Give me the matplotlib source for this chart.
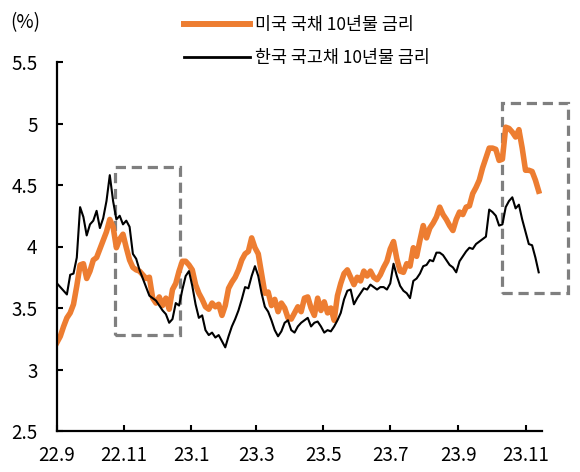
import matplotlib
matplotlib.use("Agg")
import matplotlib.pyplot as plt
from matplotlib.patches import Rectangle
from matplotlib.lines import Line2D
import pandas as pd

plt.rcParams["font.family"] = ["Noto Sans CJK KR", "DejaVu Sans"]

# values, one point every 3 days from 2022-09-01
us_10y = [
    3.22, 3.27, 3.35, 3.42, 3.46, 3.53, 3.68, 3.85, 3.86, 3.74,
    3.80, 3.89, 3.91, 3.98, 4.05, 4.12, 4.22, 4.16, 3.99, 4.06,
    4.10, 3.99, 3.89, 3.83, 3.81, 3.80, 3.77, 3.74, 3.75, 3.58,
    3.54, 3.59, 3.52, 3.58, 3.49, 3.65, 3.70, 3.80, 3.88, 3.88,
    3.85, 3.81, 3.69, 3.62, 3.57, 3.51, 3.49, 3.54, 3.51, 3.53,
    3.44, 3.52, 3.66, 3.71, 3.75, 3.81, 3.89, 3.94, 3.96, 4.07,
    3.99, 3.94, 3.78, 3.62, 3.63, 3.52, 3.57, 3.47, 3.54, 3.50,
    3.42, 3.41, 3.46, 3.51, 3.47, 3.58, 3.59, 3.50, 3.44, 3.58,
    3.48, 3.55, 3.46, 3.50, 3.40, 3.60, 3.70, 3.78, 3.81, 3.75,
    3.69, 3.75, 3.72, 3.80, 3.76, 3.80, 3.75, 3.73, 3.77, 3.83,
    3.88, 3.98, 4.04, 3.90, 3.80, 3.79, 3.86, 3.84, 3.99, 3.92,
    4.05, 4.17, 4.07, 4.15, 4.19, 4.24, 4.32, 4.26, 4.22, 4.17,
    4.13, 4.22, 4.28, 4.26, 4.32, 4.33, 4.43, 4.48, 4.54, 4.64,
    4.72, 4.80, 4.80, 4.79, 4.70, 4.71, 4.97, 4.96, 4.93, 4.89,
    4.95, 4.80, 4.62, 4.62, 4.61, 4.54, 4.45,
]
kr_10y = [
    3.70, 3.67, 3.64, 3.61, 3.77, 3.78, 3.91, 4.32, 4.24, 4.09,
    4.18, 4.21, 4.29, 4.15, 4.23, 4.37, 4.58, 4.37, 4.22, 4.25,
    4.18, 4.21, 4.16, 3.94, 3.90, 3.81, 3.74, 3.67, 3.60, 3.58,
    3.56, 3.52, 3.48, 3.45, 3.38, 3.41, 3.54, 3.52, 3.65, 3.76,
    3.80, 3.68, 3.53, 3.42, 3.44, 3.32, 3.28, 3.30, 3.26, 3.28,
    3.23, 3.18, 3.27, 3.35, 3.41, 3.48, 3.57, 3.67, 3.66, 3.76,
    3.84, 3.76, 3.62, 3.51, 3.47, 3.40, 3.32, 3.27, 3.31, 3.38,
    3.40, 3.32, 3.30, 3.35, 3.38, 3.40, 3.42, 3.35, 3.38, 3.39,
    3.35, 3.30, 3.32, 3.31, 3.35, 3.40, 3.46, 3.57, 3.64, 3.65,
    3.53, 3.58, 3.62, 3.66, 3.65, 3.69, 3.67, 3.65, 3.67, 3.67,
    3.65, 3.70, 3.86, 3.76, 3.68, 3.64, 3.62, 3.58, 3.72, 3.74,
    3.78, 3.84, 3.85, 3.89, 3.88, 3.95, 3.95, 3.93, 3.89, 3.85,
    3.83, 3.79, 3.88, 3.92, 3.96, 3.99, 3.98, 4.02, 4.04, 4.06,
    4.08, 4.30, 4.28, 4.25, 4.17, 4.18, 4.32, 4.37, 4.40, 4.31,
    4.34, 4.22, 4.12, 4.02, 4.01, 3.91, 3.79,
]
us_label = "미국 국채 10년물 금리"
kr_label = "한국 국고채 10년물 금리"

tick_dates = ["2022-09-01", "2022-11-01", "2023-01-01", "2023-03-01",
              "2023-05-01", "2023-07-01", "2023-09-01", "2023-11-01"]
tick_labels = ["22.9", "22.11", "23.1", "23.3", "23.5", "23.7", "23.9", "23.11"]

# highlighted periods (dashed boxes)
boxes = [
    ("2022-10-24", "2022-12-22", 3.28, 4.65),
    ("2023-10-11", "2023-12-10", 3.62, 5.17),
]

us_dates = pd.date_range("2022-09-01", periods=len(us_10y), freq="3D")
kr_dates = pd.date_range("2022-09-01", periods=len(kr_10y), freq="3D")

fig = plt.figure(figsize=(5.8, 4.72), dpi=100)
ax = fig.add_axes([57 / 580, 1 - 431 / 472, 485 / 580, 369 / 472])

ax.plot(us_dates, us_10y, color="#ED7D31", lw=4.0, solid_joinstyle="round")
ax.plot(kr_dates, kr_10y, color="black", lw=1.5)

for start, end, lo, hi in boxes:
    x0 = matplotlib.dates.date2num(pd.Timestamp(start))
    x1 = matplotlib.dates.date2num(pd.Timestamp(end))
    ax.add_patch(Rectangle((x0, lo), x1 - x0, hi - lo, fill=False,
                           edgecolor="#7F7F7F", lw=2.3,
                           linestyle=(0, (3.2, 1.8)), clip_on=False))

ax.set_xlim(pd.Timestamp("2022-09-01"), pd.Timestamp("2023-11-16"))
ax.set_ylim(2.5, 5.5)
ax.set_yticks([2.5, 3, 3.5, 4, 4.5, 5, 5.5])
ax.set_yticklabels(["2.5", "3", "3.5", "4", "4.5", "5", "5.5"])
ax.set_xticks(pd.to_datetime(tick_dates))
ax.set_xticklabels(tick_labels)

for side in ["top", "right"]:
    ax.spines[side].set_visible(False)
for side in ["left", "bottom"]:
    ax.spines[side].set_linewidth(1.6)
ax.tick_params(axis="both", direction="in", length=4, width=1.5,
               labelsize=13.5, colors="black")
ax.tick_params(axis="y", pad=14)
ax.tick_params(axis="x", pad=10)

fig.text(10 / 580, 1 - 23 / 472, "(%)", fontsize=13.5, va="center", ha="left")

handles = [
    Line2D([], [], color="#ED7D31", lw=4.3),
    Line2D([], [], color="black", lw=2),
]
fig.legend(handles, [us_label, kr_label], loc="upper left",
           bbox_to_anchor=(184 / 580, 1 - 16 / 472), frameon=False,
           fontsize=12.5, handlelength=3.8, handletextpad=0.3,
           labelspacing=0.85, borderpad=0, borderaxespad=0)

fig.savefig("out.png", dpi=100)
